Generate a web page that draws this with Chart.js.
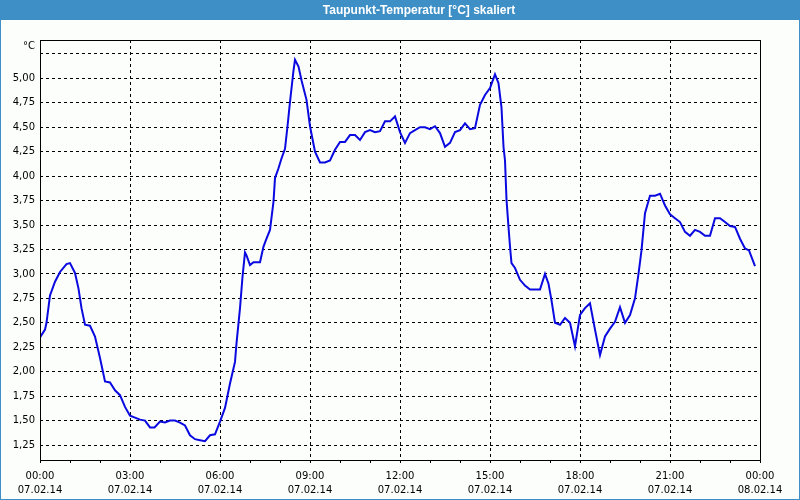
<!DOCTYPE html>
<html>
<head>
<meta charset="utf-8">
<script src="https://cdn.jsdelivr.net/npm/chart.js@4"></script>
<style>
  html, body { margin: 0; padding: 0; background: #fcfefc; }
  #chart { display: block; }
</style>
</head>
<body>
<canvas id="chart" width="800" height="500"></canvas>
<script>
// Taupunkt 07.02.14, Minuten seit 00:00 und Werte in °C
const minuten = [
  0, 10, 13, 20, 30, 40, 53, 60, 70, 77, 83, 90, 100, 110, 120, 130, 140, 150, 160, 170,
  180, 190, 200, 210, 220, 229, 240, 250, 260, 270, 280, 290, 300, 310, 320, 330, 340, 350, 360, 370,
  380, 390, 393, 400, 405, 410, 413, 420, 427, 440, 447, 453, 460, 467, 470, 477, 483, 490, 495, 500,
  507, 510, 517, 523, 533, 540, 550, 560, 570, 580, 590, 600, 610, 620, 630, 640, 650, 660, 670, 680,
  690, 700, 710, 720, 730, 740, 750, 760, 770, 780, 790, 800, 810, 820, 830, 840, 850, 860, 870, 880,
  890, 900, 910, 917, 923, 927, 930, 933, 937, 940, 943, 950, 960, 970, 980, 990, 1000, 1010, 1017, 1023,
  1030, 1040, 1050, 1060, 1070, 1080, 1090, 1100, 1110, 1120, 1130, 1140, 1150, 1160, 1170, 1180, 1190, 1197, 1203, 1210,
  1220, 1230, 1240, 1250, 1260, 1270, 1280, 1290, 1300, 1310, 1320, 1330, 1340, 1350, 1360, 1370, 1380, 1390, 1400, 1410,
  1418, 1430
];
const taupunkt = [
  2.35, 2.43, 2.50, 2.78, 2.92, 3.02, 3.10, 3.11, 3.01, 2.85, 2.65, 2.48, 2.47, 2.36, 2.14, 1.90, 1.89, 1.81, 1.76, 1.64,
  1.55, 1.53, 1.51, 1.50, 1.43, 1.43, 1.49, 1.48, 1.50, 1.50, 1.48, 1.45, 1.35, 1.31, 1.30, 1.29, 1.35, 1.36, 1.49, 1.63,
  1.88, 2.10, 2.29, 2.65, 2.97, 3.22, 3.19, 3.09, 3.12, 3.12, 3.28, 3.36, 3.45, 3.74, 3.98, 4.08, 4.18, 4.28, 4.51, 4.76,
  5.08, 5.19, 5.12, 4.98, 4.78, 4.51, 4.25, 4.14, 4.14, 4.16, 4.27, 4.35, 4.35, 4.42, 4.42, 4.37, 4.45, 4.47, 4.45, 4.46,
  4.56, 4.56, 4.61, 4.45, 4.34, 4.44, 4.47, 4.50, 4.50, 4.48, 4.51, 4.44, 4.30, 4.34, 4.45, 4.47, 4.54, 4.48, 4.49, 4.73,
  4.83, 4.90, 5.04, 4.95, 4.70, 4.30, 4.16, 3.76, 3.48, 3.28, 3.11, 3.06, 2.94, 2.88, 2.84, 2.84, 2.84, 3.00, 2.90, 2.73,
  2.50, 2.48, 2.55, 2.50, 2.26, 2.58, 2.65, 2.70, 2.43, 2.17, 2.36, 2.44, 2.51, 2.66, 2.50, 2.58, 2.75, 3.00, 3.24, 3.62,
  3.80, 3.80, 3.82, 3.70, 3.61, 3.57, 3.53, 3.43, 3.39, 3.45, 3.43, 3.39, 3.39, 3.57, 3.57, 3.53, 3.49, 3.48, 3.36, 3.26,
  3.24, 3.08
];

// Achsenbeschriftung
const yTicks = [1.25, 1.5, 1.75, 2.0, 2.25, 2.5, 2.75, 3.0, 3.25, 3.5, 3.75, 4.0, 4.25, 4.5, 4.75, 5.0, 5.25];
const zeitLabels = ['00:00', '03:00', '06:00', '09:00', '12:00', '15:00', '18:00', '21:00', '00:00'];
const datumLabels = ['07.02.14', '07.02.14', '07.02.14', '07.02.14', '07.02.14', '07.02.14', '07.02.14', '07.02.14', '08.02.14'];

const TITEL = 'Taupunkt-Temperatur [°C] skaliert';
const EINHEIT = '°C';
const BLAU = '#3d8fc6';
const FONT = "'DejaVu Sans', sans-serif";

// Hintergrund, Titelleiste, Rahmen
const rahmenPlugin = {
  id: 'rahmen',
  beforeDraw(chart) {
    const ctx = chart.ctx;
    const w = chart.width, h = chart.height;
    ctx.save();
    ctx.fillStyle = '#fcfefc';
    ctx.fillRect(0, 0, w, h);
    ctx.fillStyle = BLAU;
    ctx.fillRect(0, 0, w, 20);
    ctx.strokeStyle = BLAU;
    ctx.lineWidth = 1;
    ctx.strokeRect(0.5, 0.5, w - 1, h - 1);
    ctx.fillStyle = '#ffffff';
    ctx.font = "bold 12px 'Liberation Sans', sans-serif";
    ctx.textAlign = 'center';
    ctx.textBaseline = 'middle';
    ctx.fillText(TITEL, 419, 11, 198);
    ctx.restore();
  },
  afterDraw(chart) {
    const ctx = chart.ctx;
    const a = chart.chartArea;
    ctx.save();
    ctx.strokeStyle = '#000';
    ctx.lineWidth = 1;
    ctx.strokeRect(Math.round(a.left) + 0.5, Math.round(a.top) + 0.5,
      Math.round(a.right - a.left), Math.round(a.bottom - a.top));
    ctx.fillStyle = '#000';
    ctx.font = '10px ' + FONT;
    ctx.textAlign = 'right';
    ctx.textBaseline = 'middle';
    ctx.fillText(EINHEIT, a.left - 5, a.top + 6);
    ctx.restore();
  }
};

new Chart(document.getElementById('chart'), {
  type: 'line',
  data: {
    datasets: [{
      data: minuten.map((m, i) => ({ x: m, y: taupunkt[i] })),
      borderColor: '#0a0ae0',
      borderWidth: 2,
      pointRadius: 0,
      tension: 0,
      fill: false
    }]
  },
  options: {
    responsive: false,
    animation: false,
    devicePixelRatio: 1,
    layout: { padding: { top: 40, right: 40, left: 0, bottom: 0 } },
    plugins: { legend: { display: false }, tooltip: { enabled: false } },
    scales: {
      x: {
        type: 'linear',
        min: 0,
        max: 1440,
        afterFit: s => { s.height = 40; },
        ticks: {
          stepSize: 60,
          autoSkip: false,
          maxRotation: 0,
          padding: 6,
          color: '#000',
          font: { family: FONT, size: 10, lineHeight: 1.4 },
          callback: v => (v % 180 === 0 ? [zeitLabels[v / 180], datumLabels[v / 180]] : '')
        },
        grid: {
          color: c => (c.tick && c.tick.value % 180 === 0 && c.tick.value > 0 && c.tick.value < 1440 ? '#000' : 'rgba(0,0,0,0)'),
          tickColor: '#000',
          tickLength: 3,
          tickBorderDash: []
        },
        border: { display: false, dash: [3, 3] }
      },
      y: {
        min: 1.097,
        max: 5.392,
        afterFit: s => { s.width = 40; },
        afterBuildTicks: s => { s.ticks = yTicks.map(v => ({ value: v })); },
        ticks: {
          padding: 5,
          color: '#000',
          font: { family: FONT, size: 10 },
          callback: v => (v > 5.2 ? '' : v.toFixed(2).replace('.', ','))
        },
        grid: { color: '#000', drawTicks: false },
        border: { display: false, dash: [3, 3] }
      }
    }
  },
  plugins: [rahmenPlugin]
});
</script>
</body>
</html>
